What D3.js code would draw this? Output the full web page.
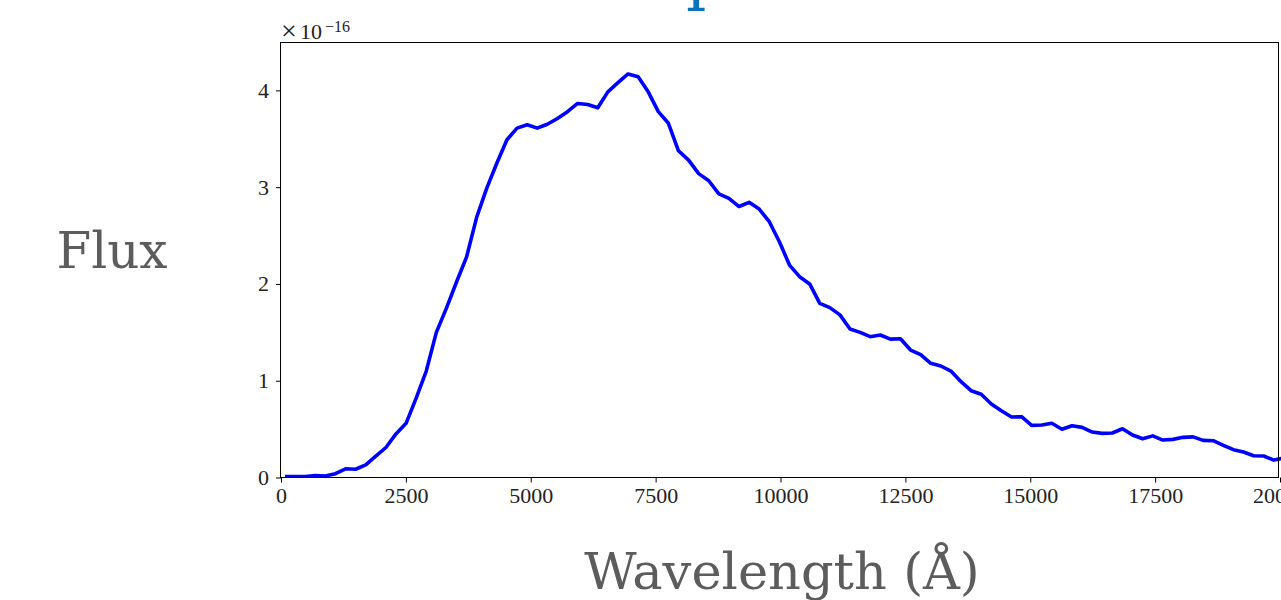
<!DOCTYPE html>
<html>
<head>
<meta charset="utf-8">
<script src="https://cdn.jsdelivr.net/npm/d3@7"></script>
<style>
  body { margin: 0; background: #fff; overflow: hidden; }
</style>
</head>
<body>
<div id="spectrum"></div>
<script>
//// Data ////
// wavelength grid (Angstrom)
var wavelength = [80, 282, 484, 686, 888, 1090, 1292, 1494, 1696, 1898,
  2100, 2302, 2504, 2706, 2908, 3110, 3312, 3514, 3716, 3918,
  4120, 4322, 4524, 4726, 4928, 5130, 5332, 5534, 5736, 5938,
  6140, 6342, 6544, 6746, 6948, 7150, 7352, 7554, 7756, 7958,
  8160, 8362, 8564, 8766, 8968, 9170, 9372, 9574, 9776, 9978,
  10180, 10382, 10584, 10786, 10988, 11190, 11392, 11594, 11796, 11998,
  12200, 12402, 12604, 12806, 13008, 13210, 13412, 13614, 13816, 14018,
  14220, 14422, 14624, 14826, 15028, 15230, 15432, 15634, 15836, 16038,
  16240, 16442, 16644, 16846, 17048, 17250, 17452, 17654, 17856, 18058,
  18260, 18462, 18664, 18866, 19068, 19270, 19472, 19674, 19876, 20078];

// flux in units of 1e-16
var flux = [0.01, 0.01, 0.01, 0.02, 0.015, 0.04, 0.09, 0.085, 0.13, 0.22,
  0.31, 0.45, 0.56, 0.82, 1.10, 1.50, 1.75, 2.02, 2.28, 2.69,
  2.99, 3.25, 3.49, 3.61, 3.645, 3.61, 3.65, 3.71, 3.78, 3.865,
  3.855, 3.82, 3.985, 4.08, 4.17, 4.14, 3.985, 3.78, 3.66, 3.376,
  3.28, 3.14, 3.066, 2.93, 2.885, 2.80, 2.843, 2.774, 2.643, 2.436,
  2.195, 2.075, 2.0, 1.80, 1.755, 1.68, 1.535, 1.50, 1.455, 1.472,
  1.43, 1.434, 1.317, 1.27, 1.18, 1.152, 1.10, 0.99, 0.897, 0.86,
  0.76, 0.69, 0.625, 0.628, 0.539, 0.542, 0.56, 0.498, 0.535, 0.518,
  0.47, 0.456, 0.46, 0.504, 0.439, 0.40, 0.43, 0.387, 0.394, 0.415,
  0.42, 0.384, 0.38, 0.333, 0.287, 0.263, 0.225, 0.222, 0.18, 0.20];

var xTicks = [0, 2500, 5000, 7500, 10000, 12500, 15000, 17500, 20000];
var yTicks = [0, 1, 2, 3, 4];

var titleText = "Spectrum";
var xLabel = "Wavelength (Å)";
var yLabel = "Flux";

// svg container
var width = 1281;
var height = 600;

var margin = { top: 42, right: 1, bottom: 122.5, left: 281 };

var chartWidth = width - margin.left - margin.right;
var chartHeight = height - margin.top - margin.bottom;

var tickFont = "'Liberation Serif', 'DejaVu Serif', serif";

var svg = d3.select("#spectrum").append("svg")
    .attr("width", width)
    .attr("height", height);

var chartGroup = svg.append("g")
    .attr("transform", `translate(${margin.left}, ${margin.top})`);

//// Scales ////
var xScale = d3.scaleLinear()
    .domain([0, 20000])
    .range([0, chartWidth]);

var yScale = d3.scaleLinear()
    .domain([0, 4.5])
    .range([chartHeight, 0]);

// clip the curve to the axes box
svg.append("defs").append("clipPath")
    .attr("id", "plotClip")
  .append("rect")
    .attr("x", 0)
    .attr("y", 0)
    .attr("width", chartWidth + 2)
    .attr("height", chartHeight);

//// Line ////
var points = wavelength.map(function (w, i) { return [w, flux[i]]; });

var line = d3.line()
    .x(d => xScale(d[0]))
    .y(d => yScale(d[1]));

chartGroup.append("path")
    .datum(points)
    .attr("clip-path", "url(#plotClip)")
    .attr("fill", "none")
    .attr("stroke", "#0000ff")
    .attr("stroke-width", 3.6)
    .attr("stroke-linejoin", "round")
    .attr("d", line);

//// Axes ////
var xAxis = d3.axisBottom(xScale)
    .tickValues(xTicks)
    .tickSize(5)
    .tickPadding(5)
    .tickFormat(d3.format("d"));

var yAxis = d3.axisLeft(yScale)
    .tickValues(yTicks)
    .tickSize(5)
    .tickPadding(7)
    .tickFormat(d3.format("d"));

var xg = chartGroup.append("g")
    .attr("transform", `translate(0, ${chartHeight})`)
    .call(xAxis);

var yg = chartGroup.append("g")
    .call(yAxis);

[xg, yg].forEach(function (g) {
    g.select(".domain").remove();
    g.selectAll(".tick line").attr("stroke", "#000").attr("stroke-width", 1);
    g.selectAll(".tick text")
        .attr("font-family", tickFont)
        .attr("font-size", "22px")
        .attr("fill", "#222");
});

// frame
chartGroup.append("rect")
    .attr("x", -0.5)
    .attr("y", 0.5)
    .attr("width", chartWidth - 1)
    .attr("height", chartHeight - 0.5)
    .attr("fill", "none")
    .attr("stroke", "#000")
    .attr("stroke-width", 1);

// offset text for the y axis
svg.append("text")
    .attr("x", margin.left)
    .attr("y", 40)
    .attr("font-family", tickFont)
    .attr("font-size", "28px")
    .attr("fill", "#222")
    .text("×");

svg.append("text")
    .attr("x", 300)
    .attr("y", 39)
    .attr("font-family", tickFont)
    .attr("font-size", "22px")
    .attr("fill", "#222")
    .text("10");

svg.append("text")
    .attr("x", 325)
    .attr("y", 31.5)
    .attr("font-family", tickFont)
    .attr("font-size", "16px")
    .attr("fill", "#222")
    .text("−16");

//// Labels ////
svg.append("text")
    .attr("x", margin.left + chartWidth / 2 + 20)
    .attr("y", -2.5)
    .attr("text-anchor", "middle")
    .attr("font-family", "'DejaVu Serif', serif")
    .attr("font-size", "64px")
    .attr("fill", "#0b74b8")
    .text(titleText);

svg.append("text")
    .attr("x", 112)
    .attr("y", 268)
    .attr("text-anchor", "middle")
    .attr("font-family", "'DejaVu Serif', serif")
    .attr("font-size", "50px")
    .attr("fill", "#5c5c5c")
    .text(yLabel);

svg.append("text")
    .attr("x", 782)
    .attr("y", 589)
    .attr("text-anchor", "middle")
    .attr("font-family", "'DejaVu Serif', serif")
    .attr("font-size", "51px")
    .attr("fill", "#5c5c5c")
    .text(xLabel);
</script>
</body>
</html>
